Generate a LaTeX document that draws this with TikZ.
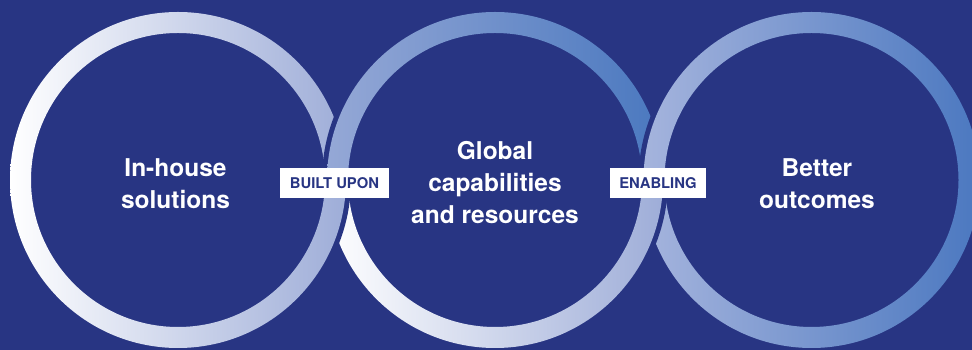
\documentclass[tikz,border=0pt]{standalone}
\usepackage{fontspec}
\setmainfont{TeX Gyre Heros}
\definecolor{bg}{HTML}{283583}
\definecolor{rA}{HTML}{FFFFFF}
\definecolor{rB}{HTML}{9EADD8}
\definecolor{rC}{HTML}{95A8D6}
\definecolor{rD}{HTML}{4A78BF}
\definecolor{rE}{HTML}{A5B4DD}
\definecolor{rF}{HTML}{4B78C0}
\tikzset{
  gap/.style={fill=bg, even odd rule},
  lab/.style={fill=white, text=bg, inner sep=0pt, minimum height=30pt,
    text height=10.6pt, text depth=0pt,
    font=\bfseries\fontsize{14.8}{17}\selectfont},
  txt/.style={text=white, align=center, inner sep=0pt,
    font=\bfseries\fontsize{24.5}{32}\selectfont}
}
\begin{document}
\begin{tikzpicture}[x=1pt,y=1pt]
\useasboundingbox (0,0) rectangle (972,350);
\fill[bg] (0,0) rectangle (972,350);
\coordinate (c1) at (178,170);
\coordinate (c2) at (495,170);
\coordinate (c3) at (811.5,170);

% ring 1
\shade[even odd rule, left color=rA, right color=rB]
  (c1) circle[radius=168] (c1) circle[radius=147];

% ring 2 (over ring 1 at top)
\fill[gap] (c2) circle[radius=173] (c2) circle[radius=142];
\shade[left color=rC, right color=rD]
  ([shift={(168,0)}]c2) arc[start angle=0,end angle=180,radius=168]
  -- ++(21,0) arc[start angle=180,end angle=0,radius=147] -- cycle;
\shade[left color=rA, right color=rB]
  ([shift={(168,0)}]c2) arc[start angle=0,end angle=-180,radius=168]
  -- ++(21,0) arc[start angle=-180,end angle=0,radius=147] -- cycle;

% ring 1 over ring 2 at bottom
\begin{scope}
  \clip (250,0) rectangle (420,170);
  \fill[gap] (c1) circle[radius=173] (c1) circle[radius=142];
  \shade[even odd rule, left color=rA, right color=rB]
    (c1) circle[radius=168] (c1) circle[radius=147];
\end{scope}

% ring 3 (over ring 2 at top)
\fill[gap] (c3) circle[radius=173] (c3) circle[radius=142];
\shade[even odd rule, left color=rE, right color=rF]
  (c3) circle[radius=168] (c3) circle[radius=147];

% ring 2 over ring 3 at bottom
\begin{scope}
  \clip (570,0) rectangle (740,170);
  \fill[gap] (c2) circle[radius=173] (c2) circle[radius=142];
  \shade[left color=rA, right color=rB]
    ([shift={(168,0)}]c2) arc[start angle=0,end angle=-180,radius=168]
    -- ++(21,0) arc[start angle=-180,end angle=0,radius=147] -- cycle;
\end{scope}

% texts
\node[txt] (t1) at (175.5,166.6) {In-house\\solutions};
\node[txt] (t2) at (495,167.3) {Global\\capabilities\\and resources};
\node[txt] (t3) at (817,166.6) {Better\\outcomes};

% labels
\node[lab, minimum width=109pt] (l1) at (334.5,167) {BUILT UPON};
\node[lab, minimum width=96pt] (l2) at (658,167) {ENABLING};
\end{tikzpicture}
\end{document}
